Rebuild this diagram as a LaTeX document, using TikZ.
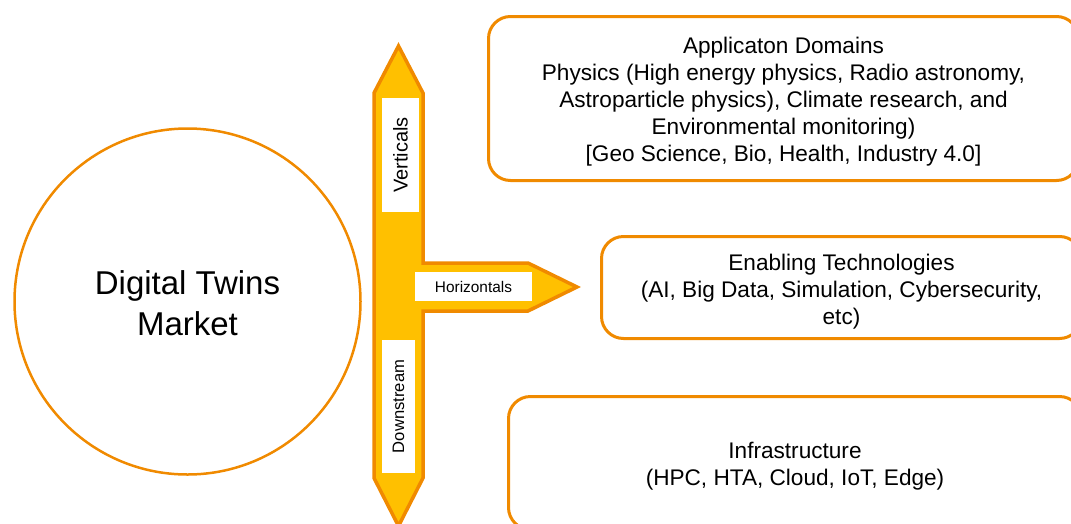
\documentclass[tikz,border=0pt]{standalone}
\usepackage{fontspec}
\setmainfont{Liberation Sans}
\definecolor{dtorange}{RGB}{240,138,0}
\definecolor{dtgold}{RGB}{255,192,0}
\tikzset{
  market/.style={circle, draw=dtorange, line width=2.5pt, inner sep=0pt,
    minimum size=346pt, align=center, font=\fontsize{33}{41}\selectfont},
  domainbox/.style={draw=dtorange, line width=3pt, rounded corners=22pt,
    align=center, inner sep=0pt, font=\fontsize{22.6}{27}\selectfont},
  axislabel/.style={fill=white, inner sep=0pt},
}

\begin{document}
\begin{tikzpicture}[x=1pt, y=-1pt]
  \useasboundingbox (0,0) rectangle (1071,523);
  \clip (0,0) rectangle (1071,523);
  % market
  \node[market] (market) at (187.5,301.5) {\rule{0pt}{28pt}Digital Twins\\Market};
  % axes
  \draw[line width=3.5pt, draw=dtorange, fill=dtgold] (398.5,46) -- (423,93) -- (423,263)
    -- (528,263) -- (577,287) -- (528,311) -- (423,311) -- (423,478) -- (398.5,526)
    -- (374,478) -- (374,93) -- cycle;
  \node[axislabel, rotate=90, minimum width=114pt, minimum height=37pt,
    font=\fontsize{20}{24}\selectfont] (vert) at (400.5,155) {Verticals};
  \node[axislabel, minimum width=117pt, minimum height=29pt,
    font=\fontsize{15.4}{18}\selectfont] (horiz) at (473.5,286.5) {Horizontals};
  \node[axislabel, rotate=90, minimum width=133pt, minimum height=33pt,
    font=\fontsize{16.6}{20}\selectfont] (down) at (398.5,406.5) {Downstream};
  % boxes
  \node[domainbox, minimum width=590pt, minimum height=164pt] (apps) at (783.5,98.5)
    {\rule{0pt}{23pt}Applicaton Domains\\Physics (High energy physics, Radio astronomy,\\
     Astroparticle physics), Climate research, and\\Environmental monitoring)\\
     {[}Geo Science, Bio, Health, Industry 4.0]};
  \node[domainbox, minimum width=480pt, minimum height=102pt] (enabling) at (841.5,287.5)
    {\rule{0pt}{25pt}Enabling Technologies\\(AI, Big Data, Simulation, Cybersecurity,\\etc)};
  \node[domainbox, minimum width=573pt, minimum height=133pt] (infra) at (795,463)
    {\rule{0pt}{23pt}Infrastructure\\(HPC, HTA, Cloud, IoT, Edge)};
\end{tikzpicture}
\end{document}
